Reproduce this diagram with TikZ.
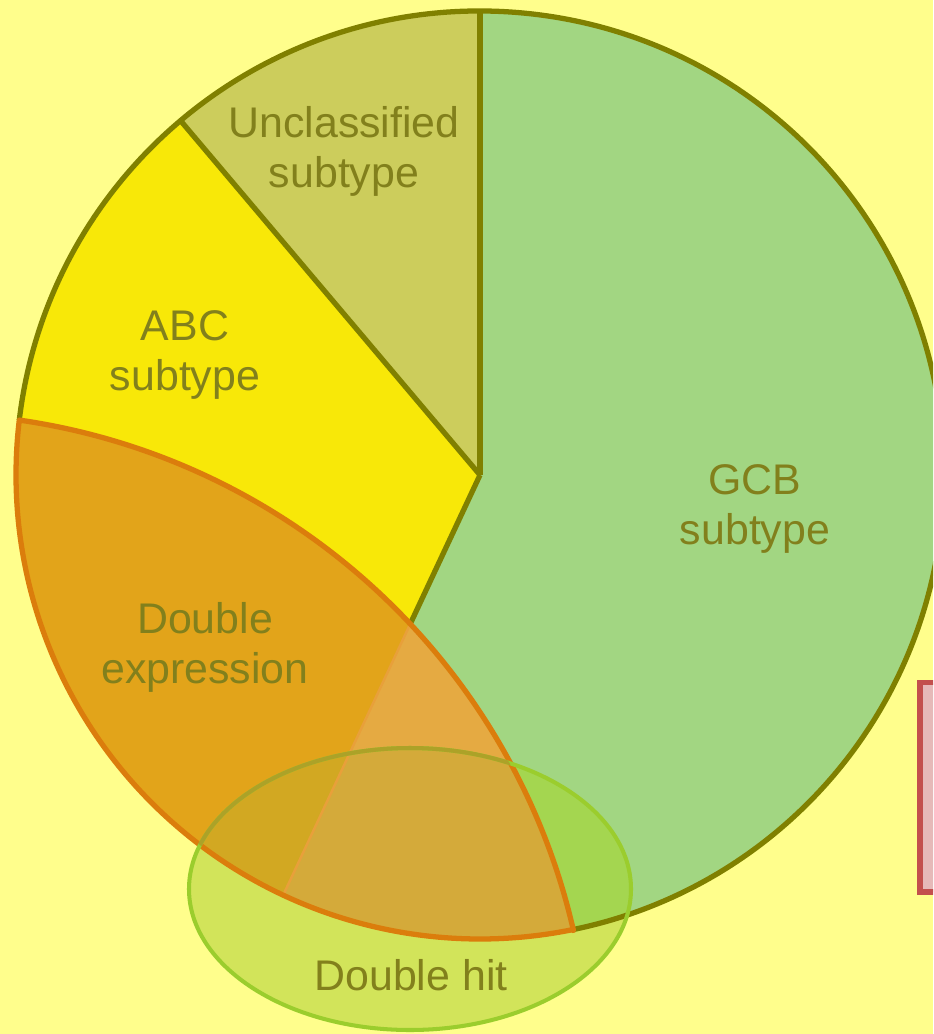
\documentclass[tikz,border=0pt]{standalone}
\usepackage{fontspec}
\setmainfont{Liberation Sans}
\definecolor{bgyellow}{RGB}{255,254,140}
\definecolor{gcbgreen}{RGB}{162,214,130}
\definecolor{uncolive}{RGB}{204,205,92}
\definecolor{abcyellow}{RGB}{248,232,8}
\definecolor{orangeA}{RGB}{226,164,26}
\definecolor{orangeG}{RGB}{229,170,66}
\definecolor{ellbg}{RGB}{210,228,90}
\definecolor{ellgreen}{RGB}{164,214,80}
\definecolor{ellorangeA}{RGB}{210,168,34}
\definecolor{ellorangeG}{RGB}{212,170,58}
\definecolor{olivestroke}{RGB}{128,128,0}
\definecolor{orangestroke}{RGB}{219,125,12}
\definecolor{faintstroke}{RGB}{232,160,58}
\definecolor{ellstroke}{RGB}{155,205,45}
\definecolor{ellstrokedark}{RGB}{172,162,40}
\definecolor{labeltext}{RGB}{130,128,28}
\definecolor{boxstroke}{RGB}{195,80,77}
\definecolor{boxfill}{RGB}{230,185,184}
\def\pieRad{464}
\def\lensRad{666}
\begin{document}
\begin{tikzpicture}[x=0.02cm,y=-0.02cm,
  oliveline/.style={draw=olivestroke,line width=3pt,line join=round},
  orangeline/.style={draw=orangestroke,line width=3pt,line join=round},
  faintline/.style={draw=faintstroke,line width=1.4pt},
  ellline/.style={draw=ellstroke,line width=2.3pt},
  lbl/.style={font=\fontsize{24.4pt}{28.4pt}\selectfont,text=labeltext,align=center,inner sep=0pt},
  boxline/.style={draw=boxstroke,fill=boxfill,line width=3.1pt}]
\useasboundingbox (0,0) rectangle (933,1034);
\clip (0,0) rectangle (933,1034);
\fill[bgyellow] (0,0) rectangle (933,1034);

\coordinate (C) at (480,475);
\coordinate (O2) at (-77,1079);
\coordinate (E) at (410,889);
\path (C) ++(115.1:165) coordinate (X);

% pie slices
\fill[gcbgreen] (C) -- ++(-90:\pieRad) arc[start angle=-90,end angle=115.1,radius=\pieRad] -- cycle;
\fill[uncolive] (C) -- ++(229.8:\pieRad) arc[start angle=229.8,end angle=270,radius=\pieRad] -- cycle;
\fill[abcyellow] (C) -- ++(115.1:\pieRad) arc[start angle=115.1,end angle=229.8,radius=\pieRad] -- cycle;

% double expression lens
\begin{scope}
  \clip (C) circle[radius=\pieRad];
  \clip (O2) circle[radius=\lensRad];
  \fill[orangeG] (0,0) rectangle (933,1034);
  \fill[orangeA] (C) -- ++(115.1:\pieRad) arc[start angle=115.1,end angle=229.8,radius=\pieRad] -- cycle;
\end{scope}

% double hit ellipse fill
\begin{scope}
  \clip (E) ellipse[x radius=221,y radius=141];
  \fill[ellbg] (0,0) rectangle (933,1034);
  \fill[ellgreen] (C) circle[radius=\pieRad];
  \clip (C) circle[radius=\pieRad];
  \clip (O2) circle[radius=\lensRad];
  \fill[ellorangeG] (0,0) rectangle (933,1034);
  \fill[ellorangeA] (C) -- ++(115.1:\pieRad) arc[start angle=115.1,end angle=229.8,radius=\pieRad] -- cycle;
\end{scope}

% pie outlines
\draw[oliveline] (C) -- ++(-90:\pieRad);
\draw[oliveline] (C) -- ++(229.8:\pieRad);
\draw[oliveline] (C) -- (X);
\draw[oliveline] (C) ++(186.8:\pieRad) arc[start angle=186.8,end angle=438.6,radius=\pieRad];
\draw[faintline] (X) -- ++(115.1:299);

% lens outline
\draw[orangeline] (C) ++(78.6:\pieRad) arc[start angle=78.6,end angle=186.8,radius=\pieRad]
  arc[start angle=-81.8,end angle=-12.9,radius=\lensRad] -- cycle;

% ellipse outline
\draw[ellline] (E) ellipse[x radius=221,y radius=141];
\begin{scope}
  \clip (C) circle[radius=\pieRad];
  \clip (O2) circle[radius=\lensRad];
  \draw[ellline,draw=ellstrokedark] (E) ellipse[x radius=221,y radius=141];
\end{scope}

% labels
\node[lbl] (unc) at (344,151) {Unclassified\\subtype};
\node[lbl] (abc) at (185,355) {ABC\\subtype};
\node[lbl] (gcb) at (755,509) {GCB\\subtype};
\node[lbl] (dexp) at (205,647) {Double\\expression};
\node[lbl] (dhit) at (411,975) {Double hit};

% box at the right edge
\draw[boxline] (920,682.5) rectangle (980,892);
\end{tikzpicture}
\end{document}
